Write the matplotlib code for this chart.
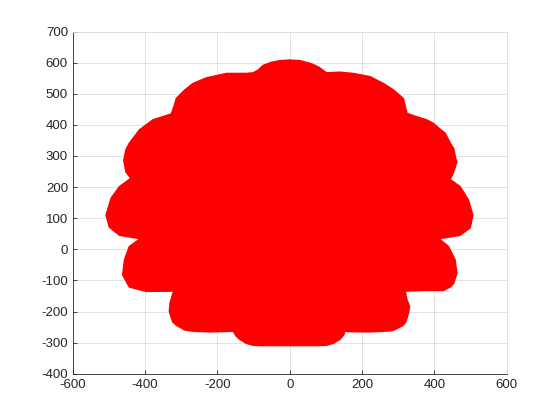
import matplotlib
matplotlib.use("Agg")
import matplotlib.pyplot as plt

# Outline of the filled red region, clockwise from the top
right_x = [0, 28, 60, 80, 101, 138, 175, 221, 258, 285, 300, 313, 318, 323, 350, 378, 396,
           415, 429, 443, 452, 458, 461, 452, 442, 470, 493, 505, 498, 470, 410, 438, 456,
           461, 452, 443, 424, 369, 318, 323, 330, 327, 320, 313, 286, 277, 221, 160,
           152, 148, 138, 120, 101, 83, 0]
right_y = [607, 605, 595, 584, 566, 568, 564, 554, 532, 512, 497, 484, 460, 436, 425, 415, 404,
           385, 372, 340, 324, 290, 281, 249, 224, 201, 158, 110, 70, 46, 35, 8, -34,
           -77, -109, -120, -131, -131, -133, -163, -184, -205, -232, -243, -259, -261, -264, -263,
           -261, -275, -288, -301, -307, -308, -308]
left_x = [-83, -101, -120, -138, -148, -155, -160, -221, -267, -290, -313, -323, -332, -330, -320,
          -397, -443, -461, -456, -443, -411, -470, -498, -507, -493, -470, -438, -452, -458,
          -452, -443, -415, -378, -327, -318, -313, -290, -267, -230, -175, -120, -101, -87,
          -73, -50, -28]
left_y = [-308, -307, -301, -288, -277, -263, -262, -264, -262, -258, -243, -232, -200, -173, -133,
          -134, -120, -82, -34, 8, 35, 46, 72, 110, 164, 201, 228, 249, 286,
          320, 340, 383, 415, 434, 463, 484, 511, 532, 550, 564, 564, 566, 575,
          590, 600, 605]

x_ticks = [-600, -400, -200, 0, 200, 400, 600]
y_ticks = [-400, -300, -200, -100, 0, 100, 200, 300, 400, 500, 600, 700]

plt.rcParams['font.family'] = ['Liberation Sans', 'DejaVu Sans']
plt.rcParams['axes.unicode_minus'] = False

fig = plt.figure(figsize=(5.6, 4.2), dpi=100)
ax = fig.add_axes([0.13, 0.11, 0.775, 0.815])

ox = right_x + left_x
oy = right_y + left_y
ax.fill(ox, oy, facecolor=(1, 0, 0), edgecolor=(1, 0, 0), linewidth=1.6,
        joinstyle='round', zorder=3)

ax.set_xlim(-600, 600)
ax.set_ylim(-400, 700)
ax.set_xticks(x_ticks)
ax.set_yticks(y_ticks)
ax.grid(True, color=(0.15, 0.15, 0.15), alpha=0.15, linewidth=0.6, zorder=0)
ax.set_axisbelow(True)
ax.tick_params(direction='in', length=3, width=0.6, colors=(0.15, 0.15, 0.15),
               labelsize=9.5)
for k in ['left', 'bottom']:
    ax.spines[k].set_color((0.15, 0.15, 0.15))
    ax.spines[k].set_linewidth(0.6)
for k in ['top', 'right']:
    ax.spines[k].set_color((0.87, 0.87, 0.87))
    ax.spines[k].set_linewidth(0.6)

fig.savefig("out.png", dpi=100)
